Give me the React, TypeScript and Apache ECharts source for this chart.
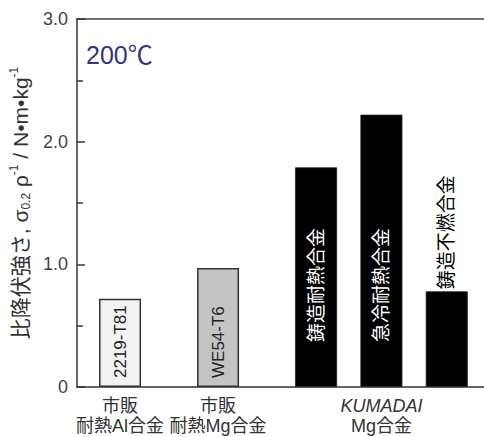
import React, { useEffect, useRef } from "react";
import * as echarts from "echarts";

const barNames = ["2219-T81", "WE54-T6", "鋳造耐熱合金", "急冷耐熱合金", "鋳造不燃合金"];
const barValues = [0.72, 0.97, 1.79, 2.22, 0.78];
const barSlots = [1, 4, 7, 9, 11];
const groupLabels = ["市販\n耐熱Al合金", "市販\n耐熱Mg合金", "{it|KUMADAI}\nMg合金"];
const groupSlots = [1, 4, 9];
const yTicks = [0, 1, 2, 3];

const FONT = "'Liberation Sans', Arial, 'Noto Sans CJK JP', sans-serif";

export default function App() {
  const ref = useRef<HTMLDivElement>(null);
  useEffect(() => {
    if (!ref.current) return;
    const chart = echarts.init(ref.current, null, { renderer: "svg" });
    const fills = ["#f2f2f2", "#c4c4c4", "#000000", "#000000", "#000000"];
    const labelConf = [
      { position: "insideBottom", distance: 9, color: "#222", fontSize: 17 },
      { position: "insideBottom", distance: 9, color: "#222", fontSize: 17 },
      { position: "insideBottom", distance: 45, color: "#ffffff", fontSize: 19 },
      { position: "insideBottom", distance: 45, color: "#ffffff", fontSize: 19 },
      { position: "top", distance: 2, color: "#000000", fontSize: 19 },
    ];
    const data = barValues.map((v, i) => ({
      value: [barSlots[i], v],
      name: barNames[i],
      itemStyle: {
        color: fills[i],
        borderColor: i < 2 ? "#333" : "#222",
        borderWidth: i < 2 ? 1.5 : 0.8,
      },
      label: {
        show: true,
        formatter: barNames[i],
        rotate: 90,
        align: "left",
        verticalAlign: "middle",
        fontFamily: FONT,
        ...labelConf[i],
      },
    }));
    chart.setOption({
      animation: false,
      backgroundColor: "#ffffff",
      grid: { left: 74, right: 0, top: 19, bottom: 50 },
      xAxis: [
        {
          type: "value",
          position: "bottom",
          min: -0.32,
          max: 12.14,
          splitLine: { show: false },
          axisTick: { show: false },
          axisLine: { show: true, onZero: false, lineStyle: { color: "#333", width: 1.5 } },
          axisLabel: {
            customValues: groupSlots,
            formatter: (v: number) => groupLabels[groupSlots.indexOf(v)] ?? "",
            fontFamily: FONT,
            fontSize: 18,
            lineHeight: 20,
            color: "#333",
            margin: 9,
            rich: {
              it: { fontStyle: "italic", fontSize: 18, fontFamily: FONT, color: "#333", lineHeight: 20 },
            },
          },
        },
        {
          type: "value",
          position: "top",
          min: -0.32,
          max: 12.14,
          splitLine: { show: false },
          axisTick: { show: false },
          axisLabel: { show: false },
          axisLine: { show: true, onZero: false, lineStyle: { color: "#444", width: 1.5 } },
        },
      ],
      yAxis: {
        type: "value",
        min: yTicks[0],
        max: yTicks[yTicks.length - 1],
        interval: 1,
        splitLine: { show: false },
        axisLine: { show: true, onZero: false, lineStyle: { color: "#333", width: 1.5 } },
        axisTick: { show: true, inside: true, length: 8, lineStyle: { color: "#333", width: 1.5 } },
        minorTick: { show: true, splitNumber: 2, length: 6, lineStyle: { color: "#333", width: 1.5 } },
        axisLabel: {
          formatter: (v: number) => (v === 0 ? "0" : v.toFixed(1)),
          fontFamily: FONT,
          fontSize: 18,
          color: "#444",
          margin: 9,
        },
        name: "比降伏強さ, σ{sub|0.2} ρ{sup|-1} / N•m•kg{sup|-1}",
        nameLocation: "middle",
        nameRotate: 90,
        nameGap: 39,
        nameTextStyle: {
          fontFamily: FONT,
          fontSize: 21,
          color: "#333",
          lineHeight: 24,
          rich: {
            sub: { fontSize: 12, fontFamily: FONT, color: "#333", verticalAlign: "bottom", lineHeight: 24 },
            sup: { fontSize: 12, fontFamily: FONT, color: "#333", verticalAlign: "top", lineHeight: 24 },
          },
        },
      },
      graphic: [
        {
          type: "text",
          left: 86,
          top: 42,
          style: { text: "200℃", font: `25px ${FONT}`, fill: "#33347a" },
        },
      ],
      series: [
        {
          type: "bar",
          xAxisIndex: 0,
          barWidth: 42,
          data,
        },
      ],
    });
    return () => chart.dispose();
  }, []);
  return (
    <div
      ref={ref}
      style={{ position: "fixed", left: 0, top: 0, width: 484, height: 437 }}
    />
  );
}
